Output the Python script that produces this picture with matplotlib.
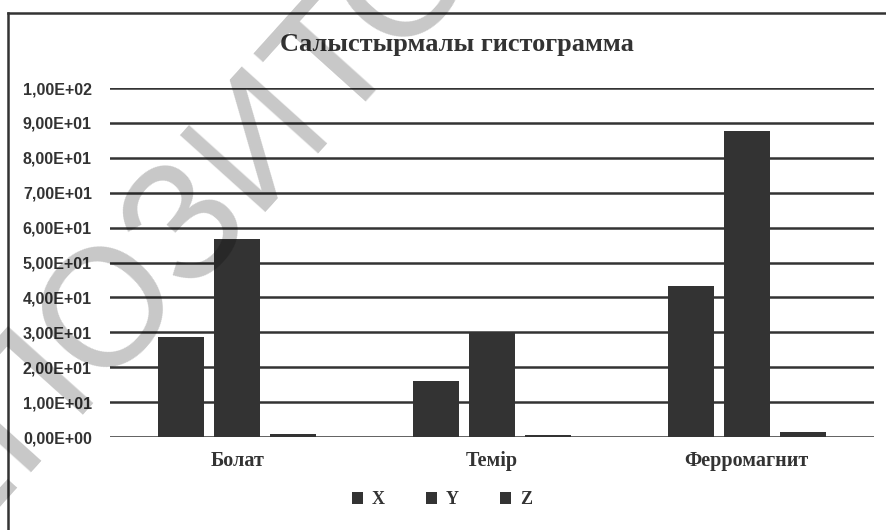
import numpy as np
import matplotlib
matplotlib.use("Agg")
import matplotlib.pyplot as plt
from matplotlib.lines import Line2D

# ----------------------------------------------------
# data
# ----------------------------------------------------
categories = ["Болат", "Темір", "Ферромагнит"]
series_names = ["X", "Y", "Z"]
x_vals = [28.7, 16.0, 43.3]
y_vals = [56.8, 30.0, 87.8]
z_vals = [0.9, 0.6, 1.4]
y_ticks = [0, 10, 20, 30, 40, 50, 60, 70, 80, 90, 100]

title = "Салыстырмалы гистограмма"
watermark = "РЕПОЗИТОРИЙ"

dark = "#333333"
serif = "Liberation Serif"
sans = "Liberation Sans"

fig = plt.figure(figsize=(8.86, 5.30), dpi=100)
ax = fig.add_axes([110 / 886, 1 - 437 / 530, 764 / 886, 349 / 530])

pos = np.arange(len(categories))
w = 0.18
step = 0.22
for i, vals in enumerate([x_vals, y_vals, z_vals]):
    ax.bar(pos + (i - 1) * step, vals, width=w, color=dark,
           label=series_names[i], zorder=3)

ax.set_xlim(-0.5, len(categories) - 0.5)
ax.set_ylim(0, 100)
ax.set_yticks(y_ticks)
ax.set_yticklabels([f"{v:.2E}".replace(".", ",") for v in y_ticks],
                   fontfamily=sans, fontweight="bold", fontsize=11.5,
                   color=dark)
ax.set_xticks(pos)
ax.set_xticklabels(categories, fontfamily=serif, fontweight="bold",
                   fontsize=14.5, color=dark)
ax.tick_params(axis="both", length=0)
ax.tick_params(axis="y", pad=13)
ax.tick_params(axis="x", pad=10)
ax.grid(axis="y", color=dark, linewidth=1.8, zorder=1)
for s in ax.spines.values():
    s.set_visible(False)

# title
fig.text(457 / 886, 1 - 44 / 530, title, ha="center", va="center",
         fontfamily=serif, fontweight="bold", fontsize=19, color=dark)

# legend
leg = fig.legend(loc="center", bbox_to_anchor=(442 / 886, 1 - 500 / 530),
                 ncol=3, frameon=False, handlelength=0.6, handleheight=0.6,
                 handletextpad=0.5, columnspacing=2.3,
                 prop={"family": serif, "weight": "bold", "size": 13})
for t in leg.get_texts():
    t.set_color(dark)

# chart frame (top and left edge visible)
fig.add_artist(Line2D([8 / 886, 1], [1 - 13 / 530, 1 - 13 / 530],
                      transform=fig.transFigure, color=dark, linewidth=1.8))
fig.add_artist(Line2D([8 / 886, 8 / 886], [0, 1 - 13 / 530],
                      transform=fig.transFigure, color=dark, linewidth=1.8))

# watermark
fig.text(262 / 886, 1 - 137 / 530, watermark, ha="center", va="center",
         rotation=48, rotation_mode="anchor", fontfamily=sans,
         fontsize=120, color="black", alpha=0.22, zorder=10)

fig.savefig("out.png", dpi=100)
